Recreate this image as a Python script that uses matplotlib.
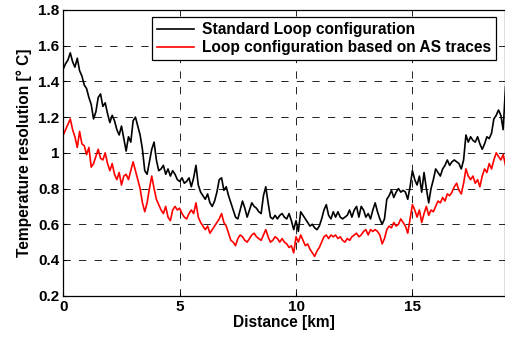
import numpy as np
import matplotlib
matplotlib.use("Agg")
import matplotlib.pyplot as plt

distance_km = [round(0.1 * i, 1) for i in range(191)]

standard_loop = [
    1.47, 1.50, 1.52, 1.56, 1.51, 1.48, 1.53, 1.46, 1.43, 1.38,
    1.36, 1.31, 1.27, 1.19, 1.23, 1.31, 1.33, 1.26, 1.28, 1.22,
    1.17, 1.21, 1.18, 1.13, 1.10, 1.15, 1.08, 1.01, 1.09, 1.06,
    1.18, 1.20, 1.15, 1.10, 1.02, 0.90, 0.88, 0.95, 1.02, 1.06,
    0.96, 0.90, 0.91, 0.93, 0.88, 0.91, 0.87, 0.90, 0.88, 0.85,
    0.84, 0.86, 0.83, 0.84, 0.86, 0.81, 0.86, 0.93, 0.82, 0.78,
    0.76, 0.74, 0.77, 0.72, 0.70, 0.73, 0.78, 0.85, 0.86, 0.79,
    0.81, 0.76, 0.72, 0.68, 0.64, 0.63, 0.68, 0.73, 0.69, 0.64,
    0.68, 0.72, 0.70, 0.69, 0.67, 0.66, 0.76, 0.81, 0.72, 0.64,
    0.63, 0.65, 0.63, 0.65, 0.66, 0.64, 0.63, 0.66, 0.62, 0.57,
    0.62, 0.56, 0.67, 0.65, 0.63, 0.61, 0.59, 0.60, 0.58, 0.57,
    0.59, 0.63, 0.68, 0.71, 0.65, 0.63, 0.67, 0.64, 0.67, 0.64,
    0.63, 0.64, 0.65, 0.68, 0.64, 0.68, 0.70, 0.64, 0.70, 0.68,
    0.64, 0.66, 0.63, 0.68, 0.72, 0.67, 0.63, 0.60, 0.63, 0.74,
    0.76, 0.79, 0.75, 0.78, 0.80, 0.78, 0.79, 0.78, 0.74, 0.81,
    0.90, 0.85, 0.82, 0.87, 0.78, 0.89, 0.80, 0.72, 0.80, 0.85,
    0.91, 0.89, 0.87, 0.91, 0.93, 0.96, 0.93, 0.95, 0.96, 0.95,
    0.94, 0.91, 0.96, 1.10, 1.06, 1.09, 1.07, 1.06, 1.09, 1.05,
    1.02, 1.05, 1.09, 1.08, 1.11, 1.19, 1.21, 1.24, 1.21, 1.13,
    1.37,
]

as_traces_loop = [
    1.10, 1.13, 1.16, 1.19, 1.13, 1.09, 1.03, 1.12, 1.05, 1.04,
    0.99, 1.03, 0.92, 0.94, 0.98, 1.02, 0.97, 0.96, 1.00, 0.94,
    0.90, 0.94, 0.88, 0.85, 0.89, 0.82, 0.87, 0.88, 0.85, 0.90,
    0.95, 0.90, 0.85, 0.80, 0.72, 0.67, 0.72, 0.80, 0.87, 0.80,
    0.74, 0.71, 0.68, 0.66, 0.70, 0.64, 0.62, 0.68, 0.70, 0.68,
    0.69, 0.66, 0.64, 0.63, 0.66, 0.68, 0.66, 0.72, 0.64, 0.61,
    0.59, 0.57, 0.59, 0.55, 0.57, 0.59, 0.61, 0.63, 0.66, 0.61,
    0.59, 0.55, 0.51, 0.50, 0.48, 0.52, 0.54, 0.53, 0.51, 0.50,
    0.52, 0.54, 0.55, 0.53, 0.52, 0.51, 0.54, 0.57, 0.53, 0.50,
    0.51, 0.53, 0.52, 0.50, 0.52, 0.50, 0.49, 0.47, 0.48, 0.44,
    0.53, 0.50, 0.54, 0.51, 0.48, 0.49, 0.46, 0.44, 0.42, 0.45,
    0.47, 0.50, 0.53, 0.54, 0.52, 0.54, 0.53, 0.54, 0.52, 0.53,
    0.51, 0.50, 0.52, 0.51, 0.53, 0.54, 0.55, 0.53, 0.54, 0.56,
    0.57, 0.54, 0.57, 0.56, 0.57, 0.56, 0.54, 0.49, 0.52, 0.57,
    0.59, 0.58, 0.61, 0.59, 0.60, 0.63, 0.61, 0.59, 0.55, 0.63,
    0.71, 0.68, 0.64, 0.68, 0.61, 0.66, 0.70, 0.65, 0.68, 0.67,
    0.70, 0.73, 0.72, 0.75, 0.73, 0.77, 0.76, 0.78, 0.81, 0.83,
    0.79, 0.77, 0.83, 0.91, 0.87, 0.85, 0.87, 0.83, 0.85, 0.81,
    0.87, 0.91, 0.89, 0.94, 0.91, 0.96, 1.00, 0.98, 0.96, 0.99,
    0.93,
]

series_labels = ["Standard Loop configuration", "Loop configuration based on AS traces"]
x_ticks = [0, 5, 10, 15]
y_ticks = [0.2, 0.4, 0.6, 0.8, 1.0, 1.2, 1.4, 1.6, 1.8]
y_tick_labels = ["0.2", "0.4", "0.6", "0.8", "1", "1.2", "1.4", "1.6", "1.8"]

plt.rcParams['font.family'] = ['Liberation Sans', 'DejaVu Sans']
plt.rcParams['font.weight'] = 'bold'

fig = plt.figure(figsize=(5.06, 3.37), dpi=100)
ax = fig.add_axes([63.3 / 506, (337 - 295.7) / 337, (505.5 - 63.3) / 506, (295.7 - 10) / 337])

ax.plot(distance_km, standard_loop, color='black', lw=1.2, label=series_labels[0])
ax.plot(distance_km, as_traces_loop, color='#ff0000', lw=1.2, label=series_labels[1])

ax.set_xlim(0, 19)
ax.set_ylim(0.2, 1.8)
ax.set_xticks(x_ticks)
ax.set_xticklabels([str(t) for t in x_ticks])
ax.set_yticks(y_ticks)
ax.set_yticklabels(y_tick_labels)
ax.tick_params(direction='in', length=3, width=0.8, labelsize=11, pad=3)
for lbl in ax.get_xticklabels() + ax.get_yticklabels():
    lbl.set_fontweight('bold')

ax.grid(True, color='#222222', linestyle=(0, (7.5, 8.5)), linewidth=0.7)
ax.set_axisbelow(True)
for s in ax.spines.values():
    s.set_linewidth(0.9)

ax.set_xlabel("Distance [km]", fontsize=11.2, fontweight='bold', labelpad=1)
ax.set_ylabel("Temperature resolution [° C]", fontsize=11.2, fontweight='bold', labelpad=4)

leg = ax.legend(loc='upper right', bbox_to_anchor=(496 / 506, (337 - 17.3) / 337),
                bbox_transform=fig.transFigure, fancybox=False, framealpha=1,
                edgecolor='black', fontsize=11.2, handlelength=2.4, handletextpad=0.5,
                borderpad=0.3, labelspacing=0.2, borderaxespad=0)
leg.get_frame().set_linewidth(0.9)
for t in leg.get_texts():
    t.set_fontweight('bold')

fig.savefig("out.png", dpi=100)
